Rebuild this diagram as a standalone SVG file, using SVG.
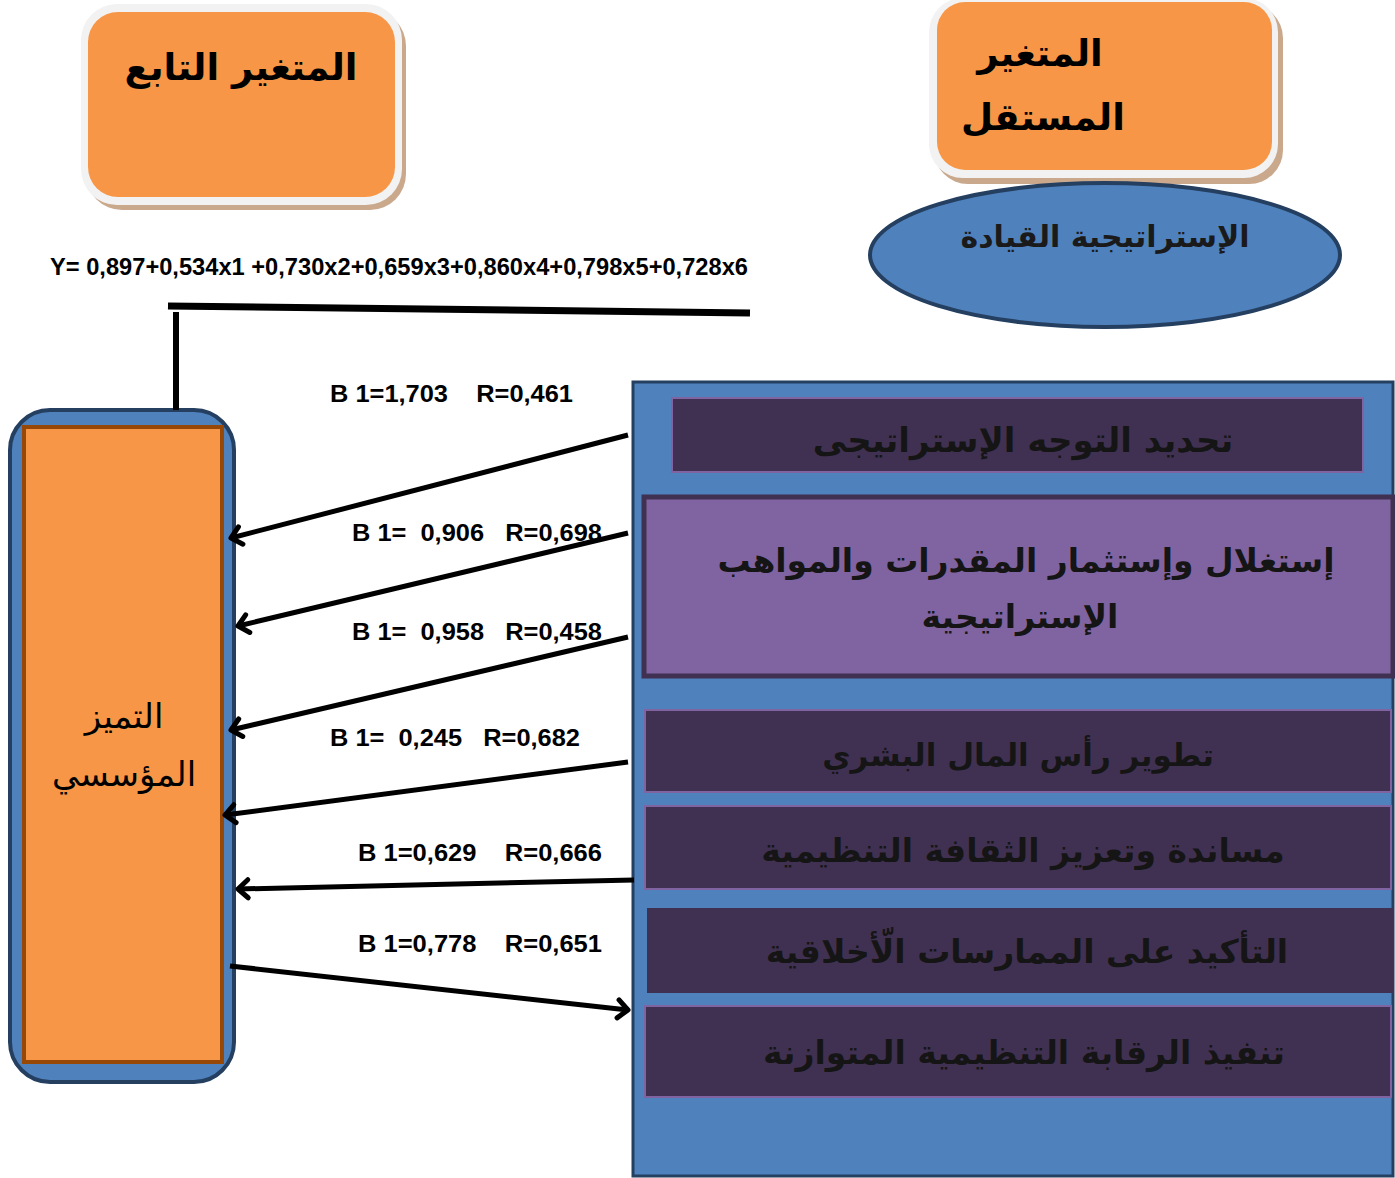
<svg xmlns="http://www.w3.org/2000/svg" width="1395" height="1178" viewBox="0 0 1395 1178">
<style>
.ar{font-family:"DejaVu Sans",sans-serif;text-anchor:middle;direction:rtl}
.arb{font-family:"DejaVu Sans",sans-serif;text-anchor:middle;direction:rtl;font-weight:bold}
.lbl{font-family:"Liberation Sans",Arial,sans-serif;font-weight:bold;font-size:24px;white-space:pre;fill:#000}
.dark{fill:#403152;stroke:#8064a2;stroke-width:2}
.conn{stroke:#000;stroke-width:5;fill:none}
</style>
<defs>
<marker id="ah2" viewBox="-12 -12 24 24" refX="0" refY="0" markerWidth="24" markerHeight="24" markerUnits="userSpaceOnUse" orient="auto" overflow="visible">
<path d="M-10,-9 L0,0 L-10,9" fill="none" stroke="#000" stroke-width="5" stroke-linecap="round" stroke-linejoin="round"/>
</marker>
</defs>
<rect width="1395" height="1178" fill="#fff"/>

<g id="dep-header">
<rect x="86" y="10" width="320" height="200" rx="36" fill="#c9a88c"/>
<rect x="81" y="4" width="321" height="201" rx="36" fill="#f2f2f2"/>
<rect x="88" y="12" width="307" height="185" rx="30" fill="#f79646"/>
<text class="arb" x="241" y="80" font-size="37" fill="#000">المتغير التابع</text>
</g>

<g id="indep-header">
<rect x="934" y="4" width="349" height="180" rx="34" fill="#c9a88c"/>
<rect x="929" y="-2" width="349" height="180" rx="34" fill="#f2f2f2"/>
<rect x="937" y="2" width="335" height="168" rx="28" fill="#f79646"/>
<text class="arb" x="1040" y="66" font-size="37" fill="#000">المتغير</text>
<text class="arb" x="1043" y="130" font-size="37" fill="#000">المستقل</text>
</g>

<g id="leadership">
<ellipse cx="1105" cy="255" rx="235" ry="72" fill="#4f81bd" stroke="#243f60" stroke-width="4"/>
<text class="arb" x="1105" y="247" font-size="30" fill="#1a1a1a">الإستراتيجية القيادة</text>
</g>

<g id="equation">
<text class="lbl" x="50" y="275" font-size="20" textLength="698" lengthAdjust="spacingAndGlyphs">Y= 0,897+0,534x1 +0,730x2+0,659x3+0,860x4+0,798x5+0,728x6</text>
</g>

<g id="excellence">
<rect x="10" y="410" width="224" height="672" rx="40" fill="#4f81bd" stroke="#243f60" stroke-width="4"/>
<rect x="24" y="427" width="198" height="635" fill="#f79646" stroke="#974706" stroke-width="4"/>
<text class="ar" x="124" y="728" font-size="34" fill="#000">التميز</text>
<text class="ar" x="124" y="786" font-size="34" fill="#000">المؤسسي</text>
</g>

<g id="dimensions">
<rect x="633" y="382" width="760" height="794" fill="#4f81bd" stroke="#243f60" stroke-width="3"/>
<g id="d1">
<rect class="dark" x="672" y="398" width="691" height="74"/>
<text class="arb" x="1023" y="452" font-size="34" fill="#151515">تحديد التوجه الإستراتيجى</text>
</g>
<g id="d2">
<rect x="644" y="497" width="749" height="179" fill="#8064a2" stroke="#403152" stroke-width="5"/>
<text class="arb" x="1026" y="572" font-size="33" fill="#151515">إستغلال وإستثمار المقدرات والمواهب</text>
<text class="arb" x="1020" y="628" font-size="33" fill="#151515">الإستراتيجية</text>
</g>
<g id="d3">
<rect class="dark" x="645" y="710" width="746" height="82"/>
<text class="arb" x="1018" y="766" font-size="31" fill="#151515">تطوير رأس المال البشري</text>
</g>
<g id="d4">
<rect class="dark" x="645" y="806" width="746" height="83"/>
<text class="arb" x="1023" y="862" font-size="33" fill="#151515">مساندة وتعزيز الثقافة التنظيمية</text>
</g>
<g id="d5">
<rect x="647" y="908" width="746" height="85" fill="#403152"/>
<text class="arb" x="1027" y="963" font-size="33" fill="#151515">التأكيد على الممارسات الّأخلاقية</text>
</g>
<g id="d6">
<rect class="dark" x="645" y="1006" width="746" height="91"/>
<text class="arb" x="1024" y="1064" font-size="33" fill="#151515">تنفيذ الرقابة التنظيمية المتوازنة</text>
</g>
</g>

<g id="connectors">
<line x1="168" y1="306" x2="750" y2="313" stroke="#000" stroke-width="7"/>
<line x1="176" y1="312" x2="176" y2="410" stroke="#000" stroke-width="6"/>
<line class="conn" x1="628" y1="435" x2="231" y2="538" marker-end="url(#ah2)"/>
<line class="conn" x1="628" y1="533" x2="238" y2="626" marker-end="url(#ah2)"/>
<line class="conn" x1="628" y1="637" x2="231" y2="730" marker-end="url(#ah2)"/>
<line class="conn" x1="628" y1="762" x2="225" y2="815" marker-end="url(#ah2)"/>
<line class="conn" x1="634" y1="880" x2="238" y2="889" marker-end="url(#ah2)"/>
<line class="conn" x1="230" y1="966" x2="628" y2="1010" marker-end="url(#ah2)"/>
<text class="lbl" x="330" y="402" textLength="243" lengthAdjust="spacingAndGlyphs">B 1=1,703    R=0,461</text>
<text class="lbl" x="352" y="541" textLength="250" lengthAdjust="spacingAndGlyphs">B 1=  0,906   R=0,698</text>
<text class="lbl" x="352" y="640" textLength="250" lengthAdjust="spacingAndGlyphs">B 1=  0,958   R=0,458</text>
<text class="lbl" x="330" y="746" textLength="250" lengthAdjust="spacingAndGlyphs">B 1=  0,245   R=0,682</text>
<text class="lbl" x="358" y="861" textLength="244" lengthAdjust="spacingAndGlyphs">B 1=0,629    R=0,666</text>
<text class="lbl" x="358" y="952" textLength="244" lengthAdjust="spacingAndGlyphs">B 1=0,778    R=0,651</text>
</g>
</svg>
